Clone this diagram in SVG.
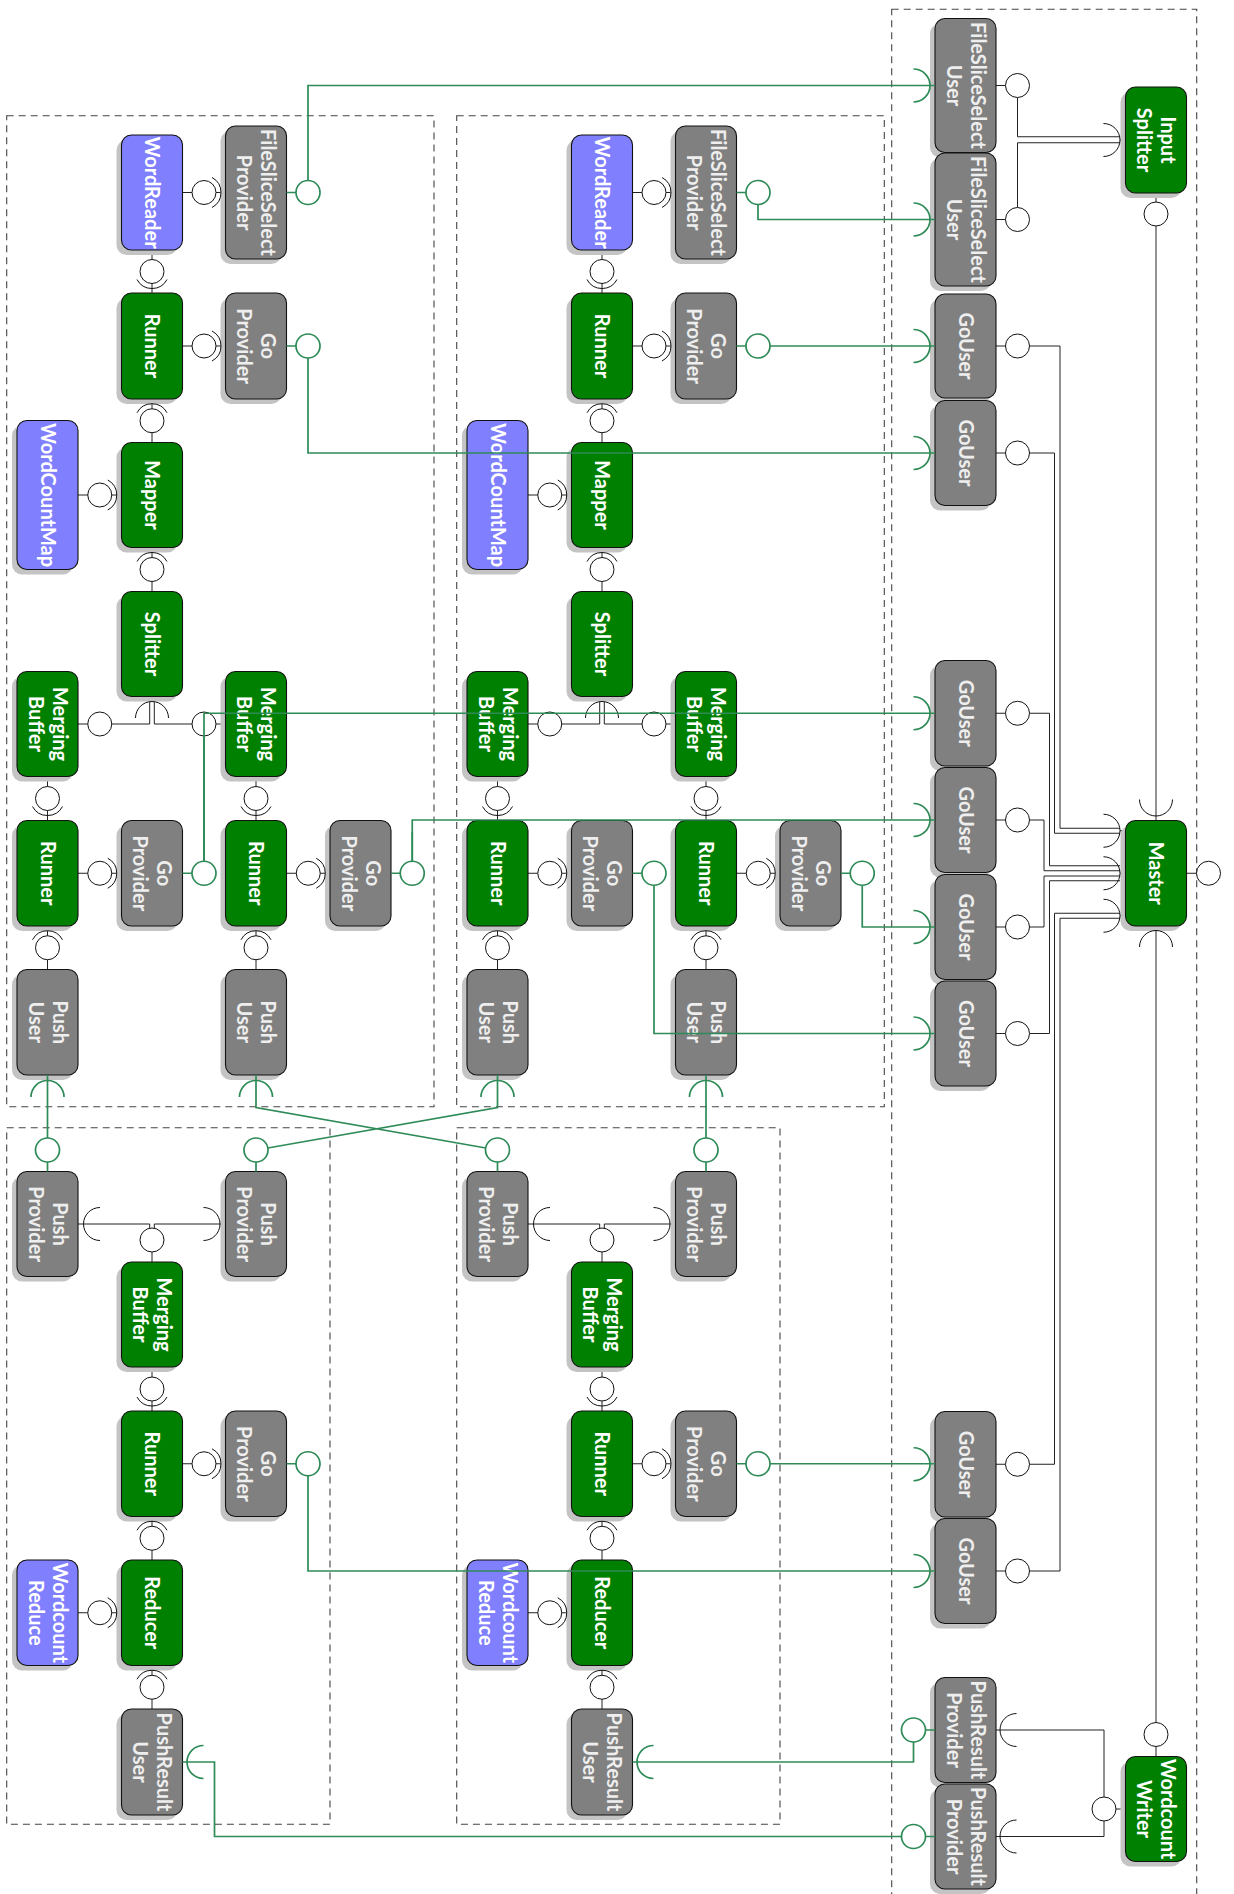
<svg xmlns="http://www.w3.org/2000/svg" width="1234" height="1894" viewBox="0 0 1234 1894">
<style>
.panel{fill:none;stroke:#444;stroke-width:1.1;stroke-dasharray:7 5}
.sh{fill:#c4c4c4}
.box{stroke:#111;stroke-width:1.1}
.g{fill:#008000}.k{fill:#808080}.b{fill:#8080ff}
.t{font-family:Lato,'Liberation Sans',sans-serif;font-weight:700;font-size:20px;fill:#fff;text-anchor:middle}
.tk{fill:#eeeeee}
.ln{fill:none;stroke:#222;stroke-width:1}
.gr{fill:none;stroke:#666;stroke-width:1.4}
.ball{fill:#fff;stroke:#111;stroke-width:1}
.sock{fill:none;stroke:#111;stroke-width:1}
.gl{fill:none;stroke:#2e8b57;stroke-width:1.7}
.gball{fill:#fff;stroke:#2e8b57;stroke-width:1.7}
</style>
<g id="panels">
<rect class="panel" x="6.7" y="115.7" width="427.3" height="991"/>
<rect class="panel" x="456.7" y="115.7" width="427.6" height="991"/>
<rect class="panel" x="6.7" y="1127.7" width="323.3" height="696.6"/>
<rect class="panel" x="456.7" y="1127.7" width="323.3" height="696.6"/>
<rect class="panel" x="891.7" y="9.3" width="305" height="1900"/>
</g>
<g id="connectors">
<g id="black-lines">
<path class="ln" d="M182.5,192.5H225.5M182.5,346H225.5M152,250V293M152,399V442.5M78,495H121.5M152,547.5V591.5M152,696.5V702M149.7,702V724H111.75M154.3,702V724H192M78,724H87.75M216,724H225.5M47.5,776.5V820.5M256,776.5V820.5M78,873.25H121.5M286.5,873.25H330M47.5,926V969.5M256,926V969.5"/>
<path class="ln" transform="translate(450,0)" d="M182.5,192.5H225.5M182.5,346H225.5M152,250V293M152,399V442.5M78,495H121.5M152,547.5V591.5M152,696.5V702M149.7,702V724H111.75M154.3,702V724H192M78,724H87.75M216,724H225.5M47.5,776.5V820.5M256,776.5V820.5M78,873.25H121.5M286.5,873.25H330M47.5,926V969.5M256,926V969.5"/>
<path class="ln" d="M78,1224H149.7V1228M225.5,1224H154.3V1228M152,1252V1262M152,1367V1411M182.5,1463.75H225.5M152,1516.5V1560M78,1612.75H121.5M152,1665.5V1709"/>
<path class="ln" transform="translate(450,0)" d="M78,1224H149.7V1228M225.5,1224H154.3V1228M152,1252V1262M152,1367V1411M182.5,1463.75H225.5M152,1516.5V1560M78,1612.75H121.5M152,1665.5V1709"/>
<path class="ln" d="M996,85.5H1005.5M996,219.5H1005.5M1017.5,97.5V136.75H1120M1017.5,207.5V142.75H1120M1120,140H1125.5M1156,193V202M1156,1746.5V1756.5M1186.5,873.25H1196.5M1120,830.75H1125.5M1120,873.25H1125.5M1120,915.75H1125.5"/>
<path class="ln" d="M996,346H1005.5M996,453H1005.5M996,713.25H1005.5M996,820H1005.5M996,927H1005.5M996,1033.5H1005.5M996,1464.25H1005.5M996,1571H1005.5"/>
<path class="ln" d="M1029.5,346H1060V828.25H1120M1029.5,453H1054.5V833.25H1120M1029.5,713.25H1049.5V865.75H1120M1029.5,820H1044V870.75H1120M1029.5,927H1044V876H1120M1029.5,1033.5H1049.5V880.75H1120M1029.5,1464.25H1054.5V913.25H1120M1029.5,1571H1060V918.25H1120"/>
<path class="ln" d="M996,1730H1104V1797M996,1836.5H1104V1821M1116,1809H1125.5"/>
<path class="gr" d="M1156,226V820.5M1156,926V1722.5"/>
</g>
</g>
<g id="nodes">
<g id="p1-fss"><rect class="sh" x="220.5" y="131" width="61" height="133" rx="10"/><rect class="box k" x="225.5" y="126" width="61" height="133" rx="10"/><text class="t tk" transform="translate(256,192.5) rotate(90)"><tspan x="0" y="-5">FileSliceSelect</tspan><tspan x="0" y="19">Provider</tspan></text></g>
<g id="p1-wordreader"><rect class="sh" x="116.5" y="140" width="61" height="115" rx="10"/><rect class="box b" x="121.5" y="135" width="61" height="115" rx="10"/><text class="t" transform="translate(152,192.5) rotate(90)" y="7">WordReader</text></g>
<g id="p1-runner1"><rect class="sh" x="116.5" y="298" width="61" height="106" rx="10"/><rect class="box g" x="121.5" y="293" width="61" height="106" rx="10"/><text class="t" transform="translate(152,346) rotate(90)" y="7">Runner</text></g>
<g id="p1-go1"><rect class="sh" x="220.5" y="298" width="61" height="106" rx="10"/><rect class="box k" x="225.5" y="293" width="61" height="106" rx="10"/><text class="t tk" transform="translate(256,346) rotate(90)"><tspan x="0" y="-5">Go</tspan><tspan x="0" y="19">Provider</tspan></text></g>
<g id="p1-wordcountmap"><rect class="sh" x="12" y="425.5" width="61" height="149" rx="10"/><rect class="box b" x="17" y="420.5" width="61" height="149" rx="10"/><text class="t" transform="translate(47.5,495) rotate(90)" y="7">WordCountMap</text></g>
<g id="p1-mapper"><rect class="sh" x="116.5" y="447.5" width="61" height="105" rx="10"/><rect class="box g" x="121.5" y="442.5" width="61" height="105" rx="10"/><text class="t" transform="translate(152,495) rotate(90)" y="7">Mapper</text></g>
<g id="p1-splitter"><rect class="sh" x="116.5" y="596.5" width="61" height="105" rx="10"/><rect class="box g" x="121.5" y="591.5" width="61" height="105" rx="10"/><text class="t" transform="translate(152,644) rotate(90)" y="7">Splitter</text></g>
<g id="p1-mbL"><rect class="sh" x="12" y="676.5" width="61" height="105" rx="10"/><rect class="box g" x="17" y="671.5" width="61" height="105" rx="10"/><text class="t" transform="translate(47.5,724) rotate(90)"><tspan x="0" y="-5">Merging</tspan><tspan x="0" y="19">Buffer</tspan></text></g>
<g id="p1-mbR"><rect class="sh" x="220.5" y="676.5" width="61" height="105" rx="10"/><rect class="box g" x="225.5" y="671.5" width="61" height="105" rx="10"/><text class="t" transform="translate(256,724) rotate(90)"><tspan x="0" y="-5">Merging</tspan><tspan x="0" y="19">Buffer</tspan></text></g>
<g id="p1-runL"><rect class="sh" x="12" y="825.5" width="61" height="105.5" rx="10"/><rect class="box g" x="17" y="820.5" width="61" height="105.5" rx="10"/><text class="t" transform="translate(47.5,873.25) rotate(90)" y="7">Runner</text></g>
<g id="p1-goM"><rect class="sh" x="116.5" y="825.5" width="61" height="105.5" rx="10"/><rect class="box k" x="121.5" y="820.5" width="61" height="105.5" rx="10"/><text class="t tk" transform="translate(152,873.25) rotate(90)"><tspan x="0" y="-5">Go</tspan><tspan x="0" y="19">Provider</tspan></text></g>
<g id="p1-runR"><rect class="sh" x="220.5" y="825.5" width="61" height="105.5" rx="10"/><rect class="box g" x="225.5" y="820.5" width="61" height="105.5" rx="10"/><text class="t" transform="translate(256,873.25) rotate(90)" y="7">Runner</text></g>
<g id="p1-goR"><rect class="sh" x="325" y="825.5" width="61" height="105.5" rx="10"/><rect class="box k" x="330" y="820.5" width="61" height="105.5" rx="10"/><text class="t tk" transform="translate(360.5,873.25) rotate(90)"><tspan x="0" y="-5">Go</tspan><tspan x="0" y="19">Provider</tspan></text></g>
<g id="p1-puL"><rect class="sh" x="12" y="974.5" width="61" height="105.5" rx="10"/><rect class="box k" x="17" y="969.5" width="61" height="105.5" rx="10"/><text class="t tk" transform="translate(47.5,1022.25) rotate(90)"><tspan x="0" y="-5">Push</tspan><tspan x="0" y="19">User</tspan></text></g>
<g id="p1-puR"><rect class="sh" x="220.5" y="974.5" width="61" height="105.5" rx="10"/><rect class="box k" x="225.5" y="969.5" width="61" height="105.5" rx="10"/><text class="t tk" transform="translate(256,1022.25) rotate(90)"><tspan x="0" y="-5">Push</tspan><tspan x="0" y="19">User</tspan></text></g>

<g id="p2-fss"><rect class="sh" x="670.5" y="131" width="61" height="133" rx="10"/><rect class="box k" x="675.5" y="126" width="61" height="133" rx="10"/><text class="t tk" transform="translate(706,192.5) rotate(90)"><tspan x="0" y="-5">FileSliceSelect</tspan><tspan x="0" y="19">Provider</tspan></text></g>
<g id="p2-wordreader"><rect class="sh" x="566.5" y="140" width="61" height="115" rx="10"/><rect class="box b" x="571.5" y="135" width="61" height="115" rx="10"/><text class="t" transform="translate(602,192.5) rotate(90)" y="7">WordReader</text></g>
<g id="p2-runner1"><rect class="sh" x="566.5" y="298" width="61" height="106" rx="10"/><rect class="box g" x="571.5" y="293" width="61" height="106" rx="10"/><text class="t" transform="translate(602,346) rotate(90)" y="7">Runner</text></g>
<g id="p2-go1"><rect class="sh" x="670.5" y="298" width="61" height="106" rx="10"/><rect class="box k" x="675.5" y="293" width="61" height="106" rx="10"/><text class="t tk" transform="translate(706,346) rotate(90)"><tspan x="0" y="-5">Go</tspan><tspan x="0" y="19">Provider</tspan></text></g>
<g id="p2-wordcountmap"><rect class="sh" x="462" y="425.5" width="61" height="149" rx="10"/><rect class="box b" x="467" y="420.5" width="61" height="149" rx="10"/><text class="t" transform="translate(497.5,495) rotate(90)" y="7">WordCountMap</text></g>
<g id="p2-mapper"><rect class="sh" x="566.5" y="447.5" width="61" height="105" rx="10"/><rect class="box g" x="571.5" y="442.5" width="61" height="105" rx="10"/><text class="t" transform="translate(602,495) rotate(90)" y="7">Mapper</text></g>
<g id="p2-splitter"><rect class="sh" x="566.5" y="596.5" width="61" height="105" rx="10"/><rect class="box g" x="571.5" y="591.5" width="61" height="105" rx="10"/><text class="t" transform="translate(602,644) rotate(90)" y="7">Splitter</text></g>
<g id="p2-mbL"><rect class="sh" x="462" y="676.5" width="61" height="105" rx="10"/><rect class="box g" x="467" y="671.5" width="61" height="105" rx="10"/><text class="t" transform="translate(497.5,724) rotate(90)"><tspan x="0" y="-5">Merging</tspan><tspan x="0" y="19">Buffer</tspan></text></g>
<g id="p2-mbR"><rect class="sh" x="670.5" y="676.5" width="61" height="105" rx="10"/><rect class="box g" x="675.5" y="671.5" width="61" height="105" rx="10"/><text class="t" transform="translate(706,724) rotate(90)"><tspan x="0" y="-5">Merging</tspan><tspan x="0" y="19">Buffer</tspan></text></g>
<g id="p2-runL"><rect class="sh" x="462" y="825.5" width="61" height="105.5" rx="10"/><rect class="box g" x="467" y="820.5" width="61" height="105.5" rx="10"/><text class="t" transform="translate(497.5,873.25) rotate(90)" y="7">Runner</text></g>
<g id="p2-goM"><rect class="sh" x="566.5" y="825.5" width="61" height="105.5" rx="10"/><rect class="box k" x="571.5" y="820.5" width="61" height="105.5" rx="10"/><text class="t tk" transform="translate(602,873.25) rotate(90)"><tspan x="0" y="-5">Go</tspan><tspan x="0" y="19">Provider</tspan></text></g>
<g id="p2-runR"><rect class="sh" x="670.5" y="825.5" width="61" height="105.5" rx="10"/><rect class="box g" x="675.5" y="820.5" width="61" height="105.5" rx="10"/><text class="t" transform="translate(706,873.25) rotate(90)" y="7">Runner</text></g>
<g id="p2-goR"><rect class="sh" x="775" y="825.5" width="61" height="105.5" rx="10"/><rect class="box k" x="780" y="820.5" width="61" height="105.5" rx="10"/><text class="t tk" transform="translate(810.5,873.25) rotate(90)"><tspan x="0" y="-5">Go</tspan><tspan x="0" y="19">Provider</tspan></text></g>
<g id="p2-puL"><rect class="sh" x="462" y="974.5" width="61" height="105.5" rx="10"/><rect class="box k" x="467" y="969.5" width="61" height="105.5" rx="10"/><text class="t tk" transform="translate(497.5,1022.25) rotate(90)"><tspan x="0" y="-5">Push</tspan><tspan x="0" y="19">User</tspan></text></g>
<g id="p2-puR"><rect class="sh" x="670.5" y="974.5" width="61" height="105.5" rx="10"/><rect class="box k" x="675.5" y="969.5" width="61" height="105.5" rx="10"/><text class="t tk" transform="translate(706,1022.25) rotate(90)"><tspan x="0" y="-5">Push</tspan><tspan x="0" y="19">User</tspan></text></g>

<g id="p3-ppL"><rect class="sh" x="12" y="1176.5" width="61" height="105" rx="10"/><rect class="box k" x="17" y="1171.5" width="61" height="105" rx="10"/><text class="t tk" transform="translate(47.5,1224) rotate(90)"><tspan x="0" y="-5">Push</tspan><tspan x="0" y="19">Provider</tspan></text></g>
<g id="p3-ppR"><rect class="sh" x="220.5" y="1176.5" width="61" height="105" rx="10"/><rect class="box k" x="225.5" y="1171.5" width="61" height="105" rx="10"/><text class="t tk" transform="translate(256,1224) rotate(90)"><tspan x="0" y="-5">Push</tspan><tspan x="0" y="19">Provider</tspan></text></g>
<g id="p3-mb"><rect class="sh" x="116.5" y="1267" width="61" height="105" rx="10"/><rect class="box g" x="121.5" y="1262" width="61" height="105" rx="10"/><text class="t" transform="translate(152,1314.5) rotate(90)"><tspan x="0" y="-5">Merging</tspan><tspan x="0" y="19">Buffer</tspan></text></g>
<g id="p3-runner"><rect class="sh" x="116.5" y="1416" width="61" height="105.5" rx="10"/><rect class="box g" x="121.5" y="1411" width="61" height="105.5" rx="10"/><text class="t" transform="translate(152,1463.75) rotate(90)" y="7">Runner</text></g>
<g id="p3-go"><rect class="sh" x="220.5" y="1416" width="61" height="105.5" rx="10"/><rect class="box k" x="225.5" y="1411" width="61" height="105.5" rx="10"/><text class="t tk" transform="translate(256,1463.75) rotate(90)"><tspan x="0" y="-5">Go</tspan><tspan x="0" y="19">Provider</tspan></text></g>
<g id="p3-wcreduce"><rect class="sh" x="12" y="1565" width="61" height="105.5" rx="10"/><rect class="box b" x="17" y="1560" width="61" height="105.5" rx="10"/><text class="t" transform="translate(47.5,1612.75) rotate(90)"><tspan x="0" y="-5">Wordcount</tspan><tspan x="0" y="19">Reduce</tspan></text></g>
<g id="p3-reducer"><rect class="sh" x="116.5" y="1565" width="61" height="105.5" rx="10"/><rect class="box g" x="121.5" y="1560" width="61" height="105.5" rx="10"/><text class="t" transform="translate(152,1612.75) rotate(90)" y="7">Reducer</text></g>
<g id="p3-pru"><rect class="sh" x="116.5" y="1714" width="61" height="106" rx="10"/><rect class="box k" x="121.5" y="1709" width="61" height="106" rx="10"/><text class="t tk" transform="translate(152,1762) rotate(90)"><tspan x="0" y="-5">PushResult</tspan><tspan x="0" y="19">User</tspan></text></g>

<g id="p4-ppL"><rect class="sh" x="462" y="1176.5" width="61" height="105" rx="10"/><rect class="box k" x="467" y="1171.5" width="61" height="105" rx="10"/><text class="t tk" transform="translate(497.5,1224) rotate(90)"><tspan x="0" y="-5">Push</tspan><tspan x="0" y="19">Provider</tspan></text></g>
<g id="p4-ppR"><rect class="sh" x="670.5" y="1176.5" width="61" height="105" rx="10"/><rect class="box k" x="675.5" y="1171.5" width="61" height="105" rx="10"/><text class="t tk" transform="translate(706,1224) rotate(90)"><tspan x="0" y="-5">Push</tspan><tspan x="0" y="19">Provider</tspan></text></g>
<g id="p4-mb"><rect class="sh" x="566.5" y="1267" width="61" height="105" rx="10"/><rect class="box g" x="571.5" y="1262" width="61" height="105" rx="10"/><text class="t" transform="translate(602,1314.5) rotate(90)"><tspan x="0" y="-5">Merging</tspan><tspan x="0" y="19">Buffer</tspan></text></g>
<g id="p4-runner"><rect class="sh" x="566.5" y="1416" width="61" height="105.5" rx="10"/><rect class="box g" x="571.5" y="1411" width="61" height="105.5" rx="10"/><text class="t" transform="translate(602,1463.75) rotate(90)" y="7">Runner</text></g>
<g id="p4-go"><rect class="sh" x="670.5" y="1416" width="61" height="105.5" rx="10"/><rect class="box k" x="675.5" y="1411" width="61" height="105.5" rx="10"/><text class="t tk" transform="translate(706,1463.75) rotate(90)"><tspan x="0" y="-5">Go</tspan><tspan x="0" y="19">Provider</tspan></text></g>
<g id="p4-wcreduce"><rect class="sh" x="462" y="1565" width="61" height="105.5" rx="10"/><rect class="box b" x="467" y="1560" width="61" height="105.5" rx="10"/><text class="t" transform="translate(497.5,1612.75) rotate(90)"><tspan x="0" y="-5">Wordcount</tspan><tspan x="0" y="19">Reduce</tspan></text></g>
<g id="p4-reducer"><rect class="sh" x="566.5" y="1565" width="61" height="105.5" rx="10"/><rect class="box g" x="571.5" y="1560" width="61" height="105.5" rx="10"/><text class="t" transform="translate(602,1612.75) rotate(90)" y="7">Reducer</text></g>
<g id="p4-pru"><rect class="sh" x="566.5" y="1714" width="61" height="106" rx="10"/><rect class="box k" x="571.5" y="1709" width="61" height="106" rx="10"/><text class="t tk" transform="translate(602,1762) rotate(90)"><tspan x="0" y="-5">PushResult</tspan><tspan x="0" y="19">User</tspan></text></g>

<g id="m-fssu1"><rect class="sh" x="930" y="23.5" width="61" height="134" rx="10"/><rect class="box k" x="935" y="18.5" width="61" height="134" rx="10"/><text class="t tk" transform="translate(965.5,85.5) rotate(90)"><tspan x="0" y="-5">FileSliceSelect</tspan><tspan x="0" y="19">User</tspan></text></g>
<g id="m-fssu2"><rect class="sh" x="930" y="158" width="61" height="133" rx="10"/><rect class="box k" x="935" y="153" width="61" height="133" rx="10"/><text class="t tk" transform="translate(965.5,219.5) rotate(90)"><tspan x="0" y="-5">FileSliceSelect</tspan><tspan x="0" y="19">User</tspan></text></g>
<g id="m-gu1"><rect class="sh" x="930" y="299" width="61" height="104" rx="10"/><rect class="box k" x="935" y="294" width="61" height="104" rx="10"/><text class="t tk" transform="translate(965.5,346) rotate(90)" y="7">GoUser</text></g>
<g id="m-gu2"><rect class="sh" x="930" y="405.5" width="61" height="105" rx="10"/><rect class="box k" x="935" y="400.5" width="61" height="105" rx="10"/><text class="t tk" transform="translate(965.5,453) rotate(90)" y="7">GoUser</text></g>
<g id="m-gu3"><rect class="sh" x="930" y="665.5" width="61" height="105.5" rx="10"/><rect class="box k" x="935" y="660.5" width="61" height="105.5" rx="10"/><text class="t tk" transform="translate(965.5,713.25) rotate(90)" y="7">GoUser</text></g>
<g id="m-gu4"><rect class="sh" x="930" y="772.5" width="61" height="105" rx="10"/><rect class="box k" x="935" y="767.5" width="61" height="105" rx="10"/><text class="t tk" transform="translate(965.5,820) rotate(90)" y="7">GoUser</text></g>
<g id="m-gu5"><rect class="sh" x="930" y="879.5" width="61" height="105" rx="10"/><rect class="box k" x="935" y="874.5" width="61" height="105" rx="10"/><text class="t tk" transform="translate(965.5,927) rotate(90)" y="7">GoUser</text></g>
<g id="m-gu6"><rect class="sh" x="930" y="986" width="61" height="105" rx="10"/><rect class="box k" x="935" y="981" width="61" height="105" rx="10"/><text class="t tk" transform="translate(965.5,1033.5) rotate(90)" y="7">GoUser</text></g>
<g id="m-gu7"><rect class="sh" x="930" y="1416.5" width="61" height="105.5" rx="10"/><rect class="box k" x="935" y="1411.5" width="61" height="105.5" rx="10"/><text class="t tk" transform="translate(965.5,1464.25) rotate(90)" y="7">GoUser</text></g>
<g id="m-gu8"><rect class="sh" x="930" y="1523.5" width="61" height="105" rx="10"/><rect class="box k" x="935" y="1518.5" width="61" height="105" rx="10"/><text class="t tk" transform="translate(965.5,1571) rotate(90)" y="7">GoUser</text></g>
<g id="m-prp1"><rect class="sh" x="930" y="1682.5" width="61" height="105" rx="10"/><rect class="box k" x="935" y="1677.5" width="61" height="105" rx="10"/><text class="t tk" transform="translate(965.5,1730) rotate(90)"><tspan x="0" y="-5">PushResult</tspan><tspan x="0" y="19">Provider</tspan></text></g>
<g id="m-prp2"><rect class="sh" x="930" y="1789" width="61" height="105" rx="10"/><rect class="box k" x="935" y="1784" width="61" height="105" rx="10"/><text class="t tk" transform="translate(965.5,1836.5) rotate(90)"><tspan x="0" y="-5">PushResult</tspan><tspan x="0" y="19">Provider</tspan></text></g>
<g id="m-inputsplitter"><rect class="sh" x="1120.5" y="92" width="61" height="106" rx="10"/><rect class="box g" x="1125.5" y="87" width="61" height="106" rx="10"/><text class="t" transform="translate(1156,140) rotate(90)"><tspan x="0" y="-5">Input</tspan><tspan x="0" y="19">Splitter</tspan></text></g>
<g id="m-master"><rect class="sh" x="1120.5" y="825.5" width="61" height="105.5" rx="10"/><rect class="box g" x="1125.5" y="820.5" width="61" height="105.5" rx="10"/><text class="t" transform="translate(1156,873.25) rotate(90)" y="7">Master</text></g>
<g id="m-writer"><rect class="sh" x="1120.5" y="1761.5" width="61" height="105" rx="10"/><rect class="box g" x="1125.5" y="1756.5" width="61" height="105" rx="10"/><text class="t" transform="translate(1156,1809) rotate(90)"><tspan x="0" y="-5">Wordcount</tspan><tspan x="0" y="19">Writer</tspan></text></g>
</g>
<g id="ports">
<g id="p1-ports">
<circle class="ball" cx="204" cy="192.5" r="12"/><circle class="ball" cx="204" cy="346" r="12"/><circle class="ball" cx="152" cy="271.5" r="12"/><circle class="ball" cx="152" cy="420.75" r="12"/><circle class="ball" cx="99.75" cy="495" r="12"/><circle class="ball" cx="152" cy="569.5" r="12"/><circle class="ball" cx="99.75" cy="724" r="12"/><circle class="ball" cx="204" cy="724" r="12"/><circle class="ball" cx="47.5" cy="798.5" r="12"/><circle class="ball" cx="256" cy="798.5" r="12"/><circle class="ball" cx="99.75" cy="873.25" r="12"/><circle class="ball" cx="308.25" cy="873.25" r="12"/><circle class="ball" cx="47.5" cy="947.75" r="12"/><circle class="ball" cx="256" cy="947.75" r="12"/>
<path class="sock" d="M212,177.5A17,17 0 0 1 212,207.5M212,331A17,17 0 0 1 212,361M167,279.5A17,17 0 0 1 137,279.5M137,412.75A17,17 0 0 1 167,412.75M107.75,480A17,17 0 0 1 107.75,510M137,561.5A17,17 0 0 1 167,561.5M135.5,718A16.5,16.5 0 0 1 168.5,718M62.5,806.5A17,17 0 0 1 32.5,806.5M271,806.5A17,17 0 0 1 241,806.5M107.75,858.25A17,17 0 0 1 107.75,888.25M316.25,858.25A17,17 0 0 1 316.25,888.25M32.5,939.75A17,17 0 0 1 62.5,939.75M241,939.75A17,17 0 0 1 271,939.75"/>
</g>
<g id="p2-ports" transform="translate(450,0)">
<circle class="ball" cx="204" cy="192.5" r="12"/><circle class="ball" cx="204" cy="346" r="12"/><circle class="ball" cx="152" cy="271.5" r="12"/><circle class="ball" cx="152" cy="420.75" r="12"/><circle class="ball" cx="99.75" cy="495" r="12"/><circle class="ball" cx="152" cy="569.5" r="12"/><circle class="ball" cx="99.75" cy="724" r="12"/><circle class="ball" cx="204" cy="724" r="12"/><circle class="ball" cx="47.5" cy="798.5" r="12"/><circle class="ball" cx="256" cy="798.5" r="12"/><circle class="ball" cx="99.75" cy="873.25" r="12"/><circle class="ball" cx="308.25" cy="873.25" r="12"/><circle class="ball" cx="47.5" cy="947.75" r="12"/><circle class="ball" cx="256" cy="947.75" r="12"/>
<path class="sock" d="M212,177.5A17,17 0 0 1 212,207.5M212,331A17,17 0 0 1 212,361M167,279.5A17,17 0 0 1 137,279.5M137,412.75A17,17 0 0 1 167,412.75M107.75,480A17,17 0 0 1 107.75,510M137,561.5A17,17 0 0 1 167,561.5M135.5,718A16.5,16.5 0 0 1 168.5,718M62.5,806.5A17,17 0 0 1 32.5,806.5M271,806.5A17,17 0 0 1 241,806.5M107.75,858.25A17,17 0 0 1 107.75,888.25M316.25,858.25A17,17 0 0 1 316.25,888.25M32.5,939.75A17,17 0 0 1 62.5,939.75M241,939.75A17,17 0 0 1 271,939.75"/>
</g>
<g id="p3-ports">
<circle class="ball" cx="152" cy="1240" r="12"/><circle class="ball" cx="152" cy="1389" r="12"/><circle class="ball" cx="204" cy="1463.75" r="12"/><circle class="ball" cx="152" cy="1538.25" r="12"/><circle class="ball" cx="99.75" cy="1612.75" r="12"/><circle class="ball" cx="152" cy="1687.25" r="12"/>
<path class="sock" d="M100,1240.5A16.5,16.5 0 0 1 100,1207.5M203.5,1207.5A16.5,16.5 0 0 1 203.5,1240.5M167,1397A17,17 0 0 1 137,1397M212,1448.75A17,17 0 0 1 212,1478.75M137,1530.25A17,17 0 0 1 167,1530.25M107.75,1597.75A17,17 0 0 1 107.75,1627.75M137,1679.25A17,17 0 0 1 167,1679.25"/>
</g>
<g id="p4-ports" transform="translate(450,0)">
<circle class="ball" cx="152" cy="1240" r="12"/><circle class="ball" cx="152" cy="1389" r="12"/><circle class="ball" cx="204" cy="1463.75" r="12"/><circle class="ball" cx="152" cy="1538.25" r="12"/><circle class="ball" cx="99.75" cy="1612.75" r="12"/><circle class="ball" cx="152" cy="1687.25" r="12"/>
<path class="sock" d="M100,1240.5A16.5,16.5 0 0 1 100,1207.5M203.5,1207.5A16.5,16.5 0 0 1 203.5,1240.5M167,1397A17,17 0 0 1 137,1397M212,1448.75A17,17 0 0 1 212,1478.75M137,1530.25A17,17 0 0 1 167,1530.25M107.75,1597.75A17,17 0 0 1 107.75,1627.75M137,1679.25A17,17 0 0 1 167,1679.25"/>
</g>
<g id="main-ports">
<circle class="ball" cx="1017.5" cy="85.5" r="12"/><circle class="ball" cx="1017.5" cy="219.5" r="12"/><circle class="ball" cx="1156" cy="214" r="12"/><circle class="ball" cx="1208.5" cy="873.25" r="12"/><circle class="ball" cx="1156" cy="1734.5" r="12"/><circle class="ball" cx="1104" cy="1809" r="12"/>
<circle class="ball" cx="1017.5" cy="346" r="12"/><circle class="ball" cx="1017.5" cy="453" r="12"/><circle class="ball" cx="1017.5" cy="713.25" r="12"/><circle class="ball" cx="1017.5" cy="820" r="12"/><circle class="ball" cx="1017.5" cy="927" r="12"/><circle class="ball" cx="1017.5" cy="1033.5" r="12"/><circle class="ball" cx="1017.5" cy="1464.25" r="12"/><circle class="ball" cx="1017.5" cy="1571" r="12"/>
<path class="sock" d="M1103.5,123.5A16.5,16.5 0 0 1 1103.5,156.5M1172.5,799.5A16.5,16.5 0 0 1 1139.5,799.5M1139.5,947A16.5,16.5 0 0 1 1172.5,947M1103.5,814.25A16.5,16.5 0 0 1 1103.5,847.25M1103.5,856.75A16.5,16.5 0 0 1 1103.5,889.75M1103.5,899.25A16.5,16.5 0 0 1 1103.5,932.25M1016.5,1746.5A16.5,16.5 0 0 1 1016.5,1713.5M1016.5,1853A16.5,16.5 0 0 1 1016.5,1820"/>
</g>
</g>
<g id="green-connectors">
<path class="gl" d="M308,180.5V85.5H935M758,204.5V219.5H935M308,358V453H935M770,346H935M204,861.25V713.25H935M412.25,861.25V820H935M862.25,885.25V927H935M654,885.25V1033.5H935M308,1475.75V1571H935M770,1463.75H935M182.5,1762H214.5V1836.5H901.5M632.5,1762H913.5V1742M47.5,1075V1138M706,1075V1138M256,1075V1107.5L485.8,1148M497.5,1075V1107.5L267.8,1148"/>
<path class="gl" d="M286.5,192.5H296M286.5,346H296M182.5,873.25H192M391,873.25H400.25M736.5,192.5H746M736.5,346H746M632.5,873.25H642M841,873.25H850.25M47.5,1162V1171.5M256,1162V1171.5M286.5,1463.75H296M497.5,1162V1171.5M706,1162V1171.5M736.5,1463.75H746M925.5,1730H935M925.5,1836.5H935"/>
<path class="gl" d="M31,1097A16.5,16.5 0 0 1 64,1097M239.5,1097A16.5,16.5 0 0 1 272.5,1097M481,1097A16.5,16.5 0 0 1 514,1097M689.5,1097A16.5,16.5 0 0 1 722.5,1097M203.5,1778.5A16.5,16.5 0 0 1 203.5,1745.5M653.5,1778.5A16.5,16.5 0 0 1 653.5,1745.5"/>
<path class="gl" d="M913.5,69A16.5,16.5 0 0 1 913.5,102M913.5,203A16.5,16.5 0 0 1 913.5,236M913.5,329.5A16.5,16.5 0 0 1 913.5,362.5M913.5,436.5A16.5,16.5 0 0 1 913.5,469.5M913.5,696.75A16.5,16.5 0 0 1 913.5,729.75M913.5,803.5A16.5,16.5 0 0 1 913.5,836.5M913.5,910.5A16.5,16.5 0 0 1 913.5,943.5M913.5,1017A16.5,16.5 0 0 1 913.5,1050M913.5,1447.75A16.5,16.5 0 0 1 913.5,1480.75M913.5,1554.5A16.5,16.5 0 0 1 913.5,1587.5"/>
<circle class="gball" cx="308" cy="192.5" r="12"/><circle class="gball" cx="308" cy="346" r="12"/><circle class="gball" cx="204" cy="873.25" r="12"/><circle class="gball" cx="412.25" cy="873.25" r="12"/>
<circle class="gball" cx="758" cy="192.5" r="12"/><circle class="gball" cx="758" cy="346" r="12"/><circle class="gball" cx="654" cy="873.25" r="12"/><circle class="gball" cx="862.25" cy="873.25" r="12"/>
<circle class="gball" cx="47.5" cy="1150" r="12"/><circle class="gball" cx="256" cy="1150" r="12"/><circle class="gball" cx="308" cy="1463.75" r="12"/>
<circle class="gball" cx="497.5" cy="1150" r="12"/><circle class="gball" cx="706" cy="1150" r="12"/><circle class="gball" cx="758" cy="1463.75" r="12"/>
<circle class="gball" cx="913.5" cy="1730" r="12"/><circle class="gball" cx="913.5" cy="1836.5" r="12"/>
<path class="gl" d="M204,861.25V736.25M412.25,861.25V832"/>
</g>
</svg>
